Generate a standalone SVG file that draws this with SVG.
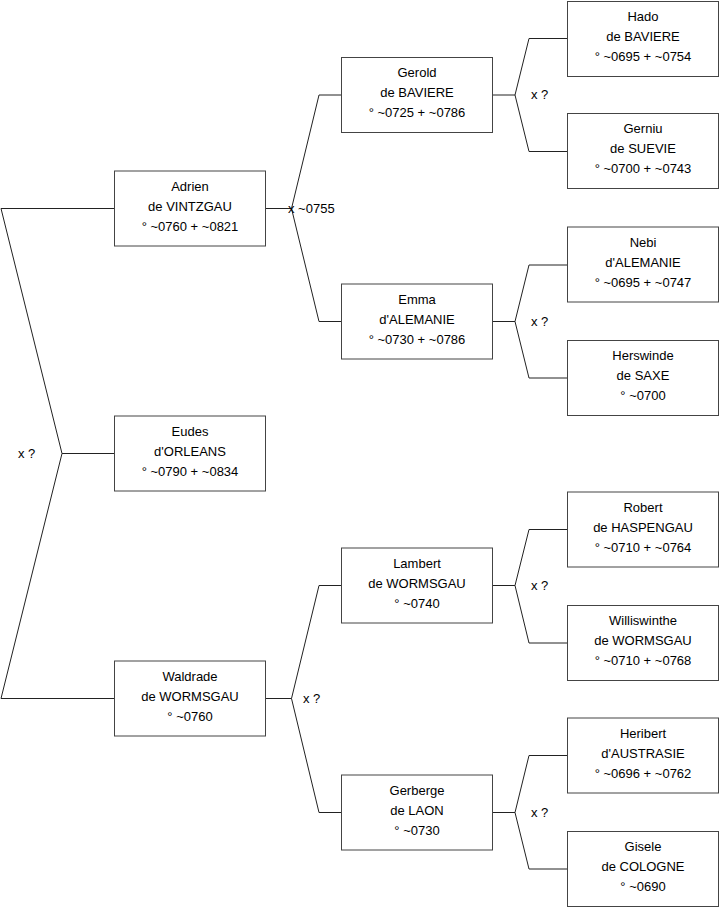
<svg xmlns="http://www.w3.org/2000/svg" width="719" height="908" viewBox="0 0 719 908">
<style>
.box rect{fill:#fff;stroke:#444;stroke-width:1}
.box text,.lbl{font-family:"Liberation Sans",Arial,sans-serif;font-size:13px;fill:#000}
.box text{text-anchor:middle}
.c{fill:none;stroke:#222;stroke-width:1}
</style>
<rect width="719" height="908" fill="#fff"/>
<g id="connectors">
<path class="c" d="M1,208.5H114.5M1,208.5L62,453.5L1,698.5H114.5M62,453.5H114.5"/>
<path class="c" d="M265.5,208.5H291.5M319,95L291.5,208.5L319,321.5M319,95H341.5M319,321.5H341.5"/>
<path class="c" d="M265.5,698.5H291.5M319,585.5L291.5,698.5L319,812.5M319,585.5H341.5M319,812.5H341.5"/>
<path class="c" d="M492.5,95H515M529,38.5L515,95L529,151.5M529,38.5H567.5M529,151.5H567.5"/>
<path class="c" d="M492.5,321.5H515M529,265L515,321.5L529,378M529,265H567.5M529,378H567.5"/>
<path class="c" d="M492.5,585.5H515M529,529.5L515,585.5L529,643M529,529.5H567.5M529,643H567.5"/>
<path class="c" d="M492.5,812.5H515M529,755.5L515,812.5L529,869M529,755.5H567.5M529,869H567.5"/>
<text class="lbl" x="18" y="458">x ?</text>
<text class="lbl" x="288" y="213">x ~0755</text>
<text class="lbl" x="303" y="703">x ?</text>
<text class="lbl" x="531" y="99">x ?</text>
<text class="lbl" x="531" y="326">x ?</text>
<text class="lbl" x="531" y="590">x ?</text>
<text class="lbl" x="531" y="817">x ?</text>
</g>
<g id="adrien" class="box"><rect x="114.5" y="171" width="151" height="75"/><text x="190" y="190.5">Adrien</text><text x="190" y="210.5">de VINTZGAU</text><text x="190" y="230.5">° ~0760 + ~0821</text></g>
<g id="eudes" class="box"><rect x="114.5" y="416" width="151" height="75"/><text x="190" y="435.5">Eudes</text><text x="190" y="455.5">d'ORLEANS</text><text x="190" y="475.5">° ~0790 + ~0834</text></g>
<g id="waldrade" class="box"><rect x="114.5" y="661" width="151" height="75"/><text x="190" y="680.5">Waldrade</text><text x="190" y="700.5">de WORMSGAU</text><text x="190" y="720.5">° ~0760</text></g>
<g id="gerold" class="box"><rect x="341.5" y="57.5" width="151" height="75"/><text x="417" y="77">Gerold</text><text x="417" y="97">de BAVIERE</text><text x="417" y="117">° ~0725 + ~0786</text></g>
<g id="emma" class="box"><rect x="341.5" y="284" width="151" height="75"/><text x="417" y="303.5">Emma</text><text x="417" y="323.5">d'ALEMANIE</text><text x="417" y="343.5">° ~0730 + ~0786</text></g>
<g id="lambert" class="box"><rect x="341.5" y="548" width="151" height="75"/><text x="417" y="567.5">Lambert</text><text x="417" y="587.5">de WORMSGAU</text><text x="417" y="607.5">° ~0740</text></g>
<g id="gerberge" class="box"><rect x="341.5" y="775" width="151" height="75"/><text x="417" y="794.5">Gerberge</text><text x="417" y="814.5">de LAON</text><text x="417" y="834.5">° ~0730</text></g>
<g id="hado" class="box"><rect x="567.5" y="1.5" width="151" height="75"/><text x="643" y="21">Hado</text><text x="643" y="41">de BAVIERE</text><text x="643" y="61">° ~0695 + ~0754</text></g>
<g id="gerniu" class="box"><rect x="567.5" y="113.5" width="151" height="75"/><text x="643" y="133">Gerniu</text><text x="643" y="153">de SUEVIE</text><text x="643" y="173">° ~0700 + ~0743</text></g>
<g id="nebi" class="box"><rect x="567.5" y="227" width="151" height="75"/><text x="643" y="246.5">Nebi</text><text x="643" y="266.5">d'ALEMANIE</text><text x="643" y="286.5">° ~0695 + ~0747</text></g>
<g id="herswinde" class="box"><rect x="567.5" y="340.5" width="151" height="75"/><text x="643" y="360">Herswinde</text><text x="643" y="380">de SAXE</text><text x="643" y="400">° ~0700</text></g>
<g id="robert" class="box"><rect x="567.5" y="492" width="151" height="75"/><text x="643" y="511.5">Robert</text><text x="643" y="531.5">de HASPENGAU</text><text x="643" y="551.5">° ~0710 + ~0764</text></g>
<g id="williswinthe" class="box"><rect x="567.5" y="605.5" width="151" height="75"/><text x="643" y="625">Williswinthe</text><text x="643" y="645">de WORMSGAU</text><text x="643" y="665">° ~0710 + ~0768</text></g>
<g id="heribert" class="box"><rect x="567.5" y="718" width="151" height="75"/><text x="643" y="737.5">Heribert</text><text x="643" y="757.5">d'AUSTRASIE</text><text x="643" y="777.5">° ~0696 + ~0762</text></g>
<g id="gisele" class="box"><rect x="567.5" y="831.5" width="151" height="75"/><text x="643" y="851">Gisele</text><text x="643" y="871">de COLOGNE</text><text x="643" y="891">° ~0690</text></g>
</svg>
